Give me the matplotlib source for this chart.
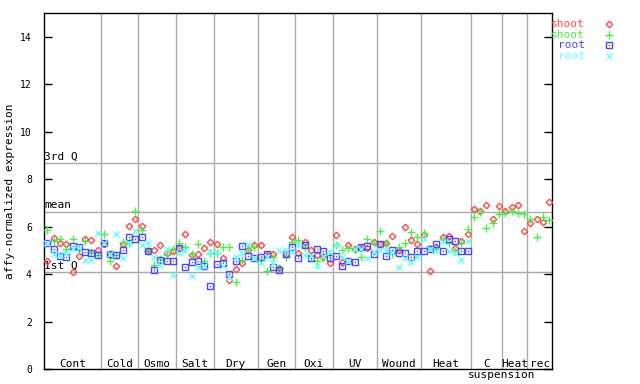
import matplotlib.pyplot as plt
import numpy as np

plt.rcParams['font.family'] = ['DejaVu Sans Mono']

# experiment groups and how many samples each one has
groups = ["Cont", "Cold", "Osmo", "Salt", "Dry", "Gen", "Oxi",
          "UV", "Wound", "Heat", "C", "Heat", "rec"]
group_sizes = [9, 6, 6, 6, 7, 6, 6, 7, 7, 8, 5, 4, 4]

# shoot replicates (all 81 samples)
shoot_1 = [4.56, 5.54, 5.30, 5.28, 4.08, 4.75, 5.48, 5.45, 5.02, 5.28,
           4.82, 4.35, 5.28, 6.02, 6.32, 6.03, 4.98, 5.02, 5.22, 4.88,
           4.97, 5.10, 5.70, 4.80, 4.85, 5.10, 5.35, 5.26, 4.67, 3.75,
           4.20, 4.45, 5.02, 5.22, 5.25, 4.81, 4.83, 4.25, 4.85, 5.56,
           4.88, 5.36, 5.00, 4.80, 4.74, 4.46, 5.64, 4.52, 5.22, 5.08,
           5.10, 5.09, 5.36, 5.26, 5.33, 5.60, 5.00, 5.98, 5.44, 5.27,
           5.65, 4.15, 5.15, 5.55, 5.61, 5.09, 5.41, 5.68, 6.74, 6.68,
           6.91, 6.32, 6.88, 6.66, 6.83, 6.91, 5.82, 6.15, 6.32, 6.18,
           7.03]
shoot_2 = [5.86, 5.40, 5.50, 5.06, 5.48, 5.04, 5.40, 4.93, 4.80, 5.70,
           4.56, 4.82, 5.34, 5.32, 6.66, 5.86, 4.99, 4.37, 4.62, 4.80,
           5.07, 5.30, 5.15, 4.85, 5.26, 4.55, 4.88, 4.88, 5.13, 5.14,
           3.65, 4.60, 5.08, 5.16, 4.60, 4.12, 4.71, 4.26, 4.73, 5.34,
           5.45, 5.15, 4.75, 4.57, 4.67, 4.85, 5.22, 5.00, 5.09, 5.00,
           4.74, 5.47, 5.30, 5.84, 5.30, 4.85, 5.16, 5.30, 5.77, 5.55,
           5.72, 5.10, 5.10, 5.48, 5.30, 4.98, 5.33, 5.91, 6.40, 6.64,
           5.93, 6.15, 6.53, 6.59, 6.68, 6.57, 6.53, 6.33, 5.58, 6.41,
           6.28]
# root replicates (no root samples for the last groups)
root_1 = [5.33, 5.06, 4.78, 4.71, 5.20, 5.16, 4.94, 4.89, 4.80, 5.30,
          4.83, 4.80, 5.01, 5.56, 5.48, 5.56, 4.98, 4.16, 4.60, 4.55,
          4.55, 5.10, 4.30, 4.51, 4.55, 4.34, 3.50, 4.42, 4.46, 4.00,
          4.54, 5.17, 4.75, 4.68, 4.71, 4.84, 4.29, 4.18, 4.84, 5.13,
          4.67, 5.21, 4.67, 5.05, 4.97, 4.67, 4.75, 4.33, 4.56, 4.52,
          5.16, 5.18, 4.85, 5.26, 4.75, 5.00, 4.88, 4.88, 4.74, 4.96,
          4.99, 5.06, 5.26, 4.96, 5.47, 5.40, 4.99, 4.99]
root_2 = [5.33, 4.87, 4.80, 4.88, 5.08, 5.10, 4.60, 4.60, 5.73, 5.30,
          4.85, 5.70, 4.70, 5.32, 5.82, 5.22, 5.31, 4.71, 4.37, 5.05,
          3.95, 4.88, 4.97, 3.91, 4.30, 4.36, 4.95, 4.93, 4.36, 3.88,
          4.72, 4.88, 5.26, 4.68, 4.45, 4.74, 4.45, 5.02, 5.02, 4.93,
          5.22, 4.81, 4.75, 4.36, 4.78, 4.94, 5.22, 4.71, 4.56, 5.06,
          5.08, 4.66, 4.95, 5.00, 5.03, 4.95, 4.29, 4.67, 4.53, 4.74,
          5.47, 5.06, 4.96, 5.37, 4.98, 4.90, 4.60, 5.41]

q1, mean_val, q3 = 4.08, 6.61, 8.68

red = '#ff4848'
green = '#44f044'
blue = '#4848ff'
cyan = '#66ffff'
grid = '#aaaaaa'

fig = plt.figure(figsize=(6.4, 3.84), dpi=100)
ax = fig.add_axes([44.3 / 640, 15 / 384, 508 / 640, 355.7 / 384])

n = len(shoot_1)
x_sh = np.arange(n)
x_rt = np.arange(len(root_1))

# group separators
bounds = np.cumsum(group_sizes)
for b in bounds[:-1]:
    ax.axvline(b - 0.5, color=grid, lw=1, zorder=1)

# quartile / mean lines
for v, lab in [(q3, "3rd Q"), (mean_val, "mean"), (q1, "1st Q")]:
    ax.axhline(v, color=grid, lw=1, zorder=1)
    ax.text(-0.5, v + 0.08, lab, fontsize=8, ha='left', va='bottom', color='black')

ax.plot(x_sh, shoot_1, ls='none', marker='D', ms=3.3, mfc='none', mec=red, mew=1, zorder=3)
ax.plot(x_sh, shoot_2, ls='none', marker='+', ms=5.5, mec=green, mew=1, zorder=3)
ax.plot(x_rt, root_1, ls='none', marker='s', ms=4.6, mfc='none', mec=blue, mew=1, zorder=3)
ax.plot(x_rt, root_1, ls='none', marker='s', ms=1, mfc=blue, mec=blue, mew=0, zorder=3)
ax.plot(x_rt, root_2, ls='none', marker='x', ms=4.3, mec=cyan, mew=1, zorder=3)

# group labels along the bottom
starts = bounds - np.array(group_sizes)
for g, s, e in zip(groups, starts, bounds):
    ax.text((s + e - 1) / 2, 0.08, g, fontsize=8, ha='center', va='baseline')
ax.text(bounds[9] - 0.97, -0.36, "suspension", fontsize=8, ha='left',
        va='baseline', clip_on=False)

ax.set_xlim(-0.5, n - 0.5)
ax.set_ylim(0, 15)
ax.set_xticks([])
ax.set_yticks(np.arange(0, 15, 2))
ax.tick_params(axis='y', direction='in', length=6, width=1, pad=9,
               labelsize=7, right=True)
for sp in ax.spines.values():
    sp.set_color('black')
    sp.set_linewidth(1)

ax.set_ylabel("affy-normalized expression", fontsize=8)
ax.yaxis.set_label_coords((15 - 44.3) / 508, 0.5)

# legend at the right
leg = [("shoot", red, dict(marker='D', ms=3.3, mfc='none', mec=red, mew=1)),
       ("shoot", green, dict(marker='+', ms=5.5, mec=green, mew=1)),
       ("root", blue, dict(marker='s', ms=4.6, mfc='none', mec=blue, mew=1)),
       ("root", cyan, dict(marker='x', ms=4.3, mec=cyan, mew=1))]
for k, (lab, col, mk) in enumerate(leg):
    yy = 1 - (24 + 10.7 * k) / 384
    fig.text(585 / 640, yy, lab, color=col, fontsize=8, ha='right', va='center')
    fig.add_artist(plt.Line2D([609 / 640], [yy], transform=fig.transFigure, ls='none', **mk))
fig.add_artist(plt.Line2D([609 / 640], [1 - (24 + 10.7 * 2) / 384], transform=fig.transFigure,
                          ls='none', marker='s', ms=1, mfc=blue, mew=0))

fig.savefig('out.png', dpi=100)
